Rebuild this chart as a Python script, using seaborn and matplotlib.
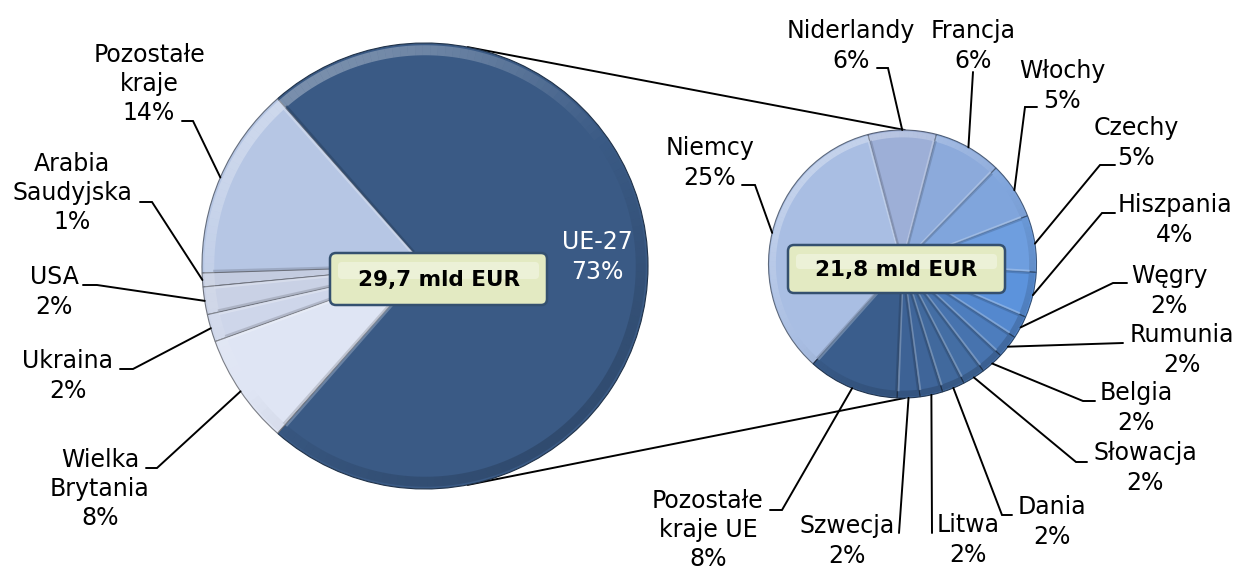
import numpy as np
import pandas as pd
import matplotlib
matplotlib.use("Agg")
import matplotlib.pyplot as plt
import matplotlib.colors as mcolors
import seaborn as sns
from matplotlib.patches import Wedge, FancyBboxPatch

# ---------------- data ----------------
main_labels = ["UE-27", "Pozostałe\nkraje", "Arabia\nSaudyjska", "USA", "Ukraina", "Wielka\nBrytania"]
main_values = [73, 14, 1, 2, 2, 8]
main_total = "29,7 mld EUR"

eu_labels = ["Niemcy", "Niderlandy", "Francja", "Włochy", "Czechy", "Hiszpania", "Węgry",
             "Rumunia", "Belgia", "Słowacja", "Dania", "Litwa", "Szwecja", "Pozostałe\nkraje UE"]
eu_values = [25, 6, 6, 5, 5, 4, 2, 2, 2, 2, 2, 2, 2, 8]
eu_total = "21,8 mld EUR"

# ---------------- style ----------------
sns.set_theme(style="white")
plt.rcParams["font.family"] = ["DejaVu Sans"]

main_colors = ["#3a5a85", "#b6c6e4", "#c4cce0", "#c9d1e5", "#ced6ea", "#dfe5f4"]
eu_colors = ["#a9bee3", "#9dafd7", "#8caadb", "#80a5dc", "#6e9edf", "#5c93dc", "#5488ce",
             "#4d7dbd", "#4773ae", "#446ea4", "#41699d", "#3f6599", "#3d6295", "#3a5d8c"]

W, H = 1235, 574
def P(x, y):
    return (x, H - y)

L_C, L_R = (425, 266), 223
R_C, R_R = (902.5, 264), 134
FS = 17
LS = 1.27
LW = 1.4

fig = plt.figure(figsize=(W / 100, H / 100), dpi=100)
ax = fig.add_axes([0, 0, 1, 1])

def darker(c, f=0.72):
    r, g, b = mcolors.to_rgb(c)
    return (r * f, g * f, b * f)

def lighter(c, f=0.45):
    r, g, b = mcolors.to_rgb(c)
    return (r + (1 - r) * f, g + (1 - g) * f, b + (1 - b) * f)

def bevel(ax, wedges):
    for w in wedges:
        cx, cy = w.center
        r = w.r
        t1, t2 = w.theta1, w.theta2
        fc = w.get_facecolor()
        w.set_edgecolor(darker(fc, 0.55))
        w.set_linewidth(0.8)
        # rim shading depending on light from the top-left
        step = 2.0
        a = t1
        while a < t2 - 1e-6:
            b = min(a + step, t2)
            mid = np.deg2rad((a + b) / 2)
            k = np.cos(mid - np.deg2rad(125))
            if k >= 0:
                col, al = "white", 0.32 * k
            else:
                col, al = "black", 0.16 * (-k)
            ax.add_patch(Wedge((cx, cy), r * 0.99, a, b, width=r * 0.045,
                               facecolor=col, alpha=al, edgecolor="none", zorder=3))
            a = b
        # radial bevel lines along slice borders
        for ang, col in ((t1, lighter(fc, 0.35)), (t2, darker(fc, 0.8))):
            th = np.deg2rad(ang)
            off = np.deg2rad(1.2 if ang == t1 else -1.2)
            if abs(t2 - t1) < 4:
                continue
            xs = [cx + r * 0.08 * np.cos(th + off * 3), cx + r * 0.95 * np.cos(th + off * 0.4)]
            ys = [cy + r * 0.08 * np.sin(th + off * 3), cy + r * 0.95 * np.sin(th + off * 0.4)]
            ax.plot(xs, ys, color=col, lw=1.6, alpha=0.7, zorder=3, solid_capstyle="butt")

# connector lines (computed from the pie geometry)
for sgn in (1, -1):
    a1 = np.deg2rad(sgn * 79)
    a2 = np.deg2rad(sgn * 89)
    p1 = (L_C[0] + L_R * np.cos(a1), H - L_C[1] + L_R * np.sin(a1))
    p2 = (R_C[0] + R_R * np.cos(a2), H - R_C[1] + R_R * np.sin(a2))
    ax.plot([p1[0], p2[0]], [p1[1], p2[1]], color="black", lw=LW, zorder=1)

tot_main = sum(main_values)
wl, _ = ax.pie(main_values, colors=main_colors, startangle=-main_values[0] / tot_main * 180,
               counterclock=True, center=P(*L_C), radius=L_R)
wr, _ = ax.pie(eu_values, colors=eu_colors, startangle=228.2, counterclock=False,
               center=P(*R_C), radius=R_R)
for w in list(wl) + list(wr):
    w.set_zorder(2)
bevel(ax, wl)
bevel(ax, wr)

def pct(v):
    return f"{v}%"

# label layout: (text center x, text center y, stub start, stub end) in pixels from top-left
main_layout = [
    (597.5, 257, None, None),
    (149, 84, (182, 121), (193, 121)),
    (72, 193, (140, 202), (152, 202)),
    (54, 292, (83, 285), (97, 285)),
    (68, 376, (120, 369), (133, 369)),
    (100, 489, (146, 468), (157, 468)),
]
eu_layout = [
    (710, 163, (742, 185), (755, 185)),
    (851, 46, (877, 68), (888, 68)),
    (973, 46, (973, 72), (973, 72)),
    (1062, 86, (1037, 107), (1025, 107)),
    (1136, 143, (1115, 165), (1100, 165)),
    (1175, 220, (1115, 213), (1102, 213)),
    (1169, 291, (1127, 283), (1113, 283)),
    (1182, 350, (1123, 343), (1123, 343)),
    (1136, 408, (1095, 401), (1083, 401)),
    (1145, 468, (1087, 462), (1076, 462)),
    (1052, 522, (1012, 515), (1002, 515)),
    (968, 540, (932, 533), (932, 533)),
    (847, 541, (899, 533), (899, 533)),
    (708, 530, (770, 510), (782, 510)),
]

def draw_labels(wedges, labels, values, layout, white_first=False):
    for i, (w, lab, v, lay) in enumerate(zip(wedges, labels, values, layout)):
        tx, ty, s0, s1 = lay
        color = "white" if (white_first and i == 0) else "black"
        ax.text(*P(tx, ty), f"{lab}\n{pct(v)}", ha="center", va="center", fontsize=FS,
                color=color, linespacing=LS, zorder=6)
        if s0 is not None:
            mid = np.deg2rad((w.theta1 + w.theta2) / 2)
            ex = w.center[0] + w.r * np.cos(mid)
            ey = w.center[1] + w.r * np.sin(mid)
            xs = [P(*s0)[0], P(*s1)[0], ex]
            ys = [P(*s0)[1], P(*s1)[1], ey]
            ax.plot(xs, ys, color="black", lw=LW, zorder=5, solid_joinstyle="miter")

draw_labels(wl, main_labels, main_values, main_layout, white_first=True)
draw_labels(wr, eu_labels, eu_values, eu_layout)

def total_box(cx, cy, w, h, txt):
    x0, y0 = P(cx - w / 2, cy + h / 2)
    ax.add_patch(FancyBboxPatch((x0 + 4, y0 + 4), w - 8, h - 8,
                                boxstyle="round,pad=4,rounding_size=6",
                                facecolor="#e3eac2", edgecolor="#34506f", lw=1.8, zorder=7))
    ax.add_patch(FancyBboxPatch((x0 + 8, y0 + h / 2), w - 16, h / 2 - 9,
                                boxstyle="round,pad=0,rounding_size=4",
                                facecolor="white", alpha=0.35, edgecolor="none", zorder=7))
    ax.text(*P(cx, cy + 1), txt, ha="center", va="center", fontsize=15.5,
            fontweight="bold", color="black", zorder=8)

total_box(438.5, 279, 217, 52, main_total)
total_box(896.5, 269, 217, 48, eu_total)

ax.set_xlim(0, W)
ax.set_ylim(0, H)
ax.set_aspect("equal")
ax.axis("off")
fig.savefig("out.png", dpi=100, facecolor="white")
